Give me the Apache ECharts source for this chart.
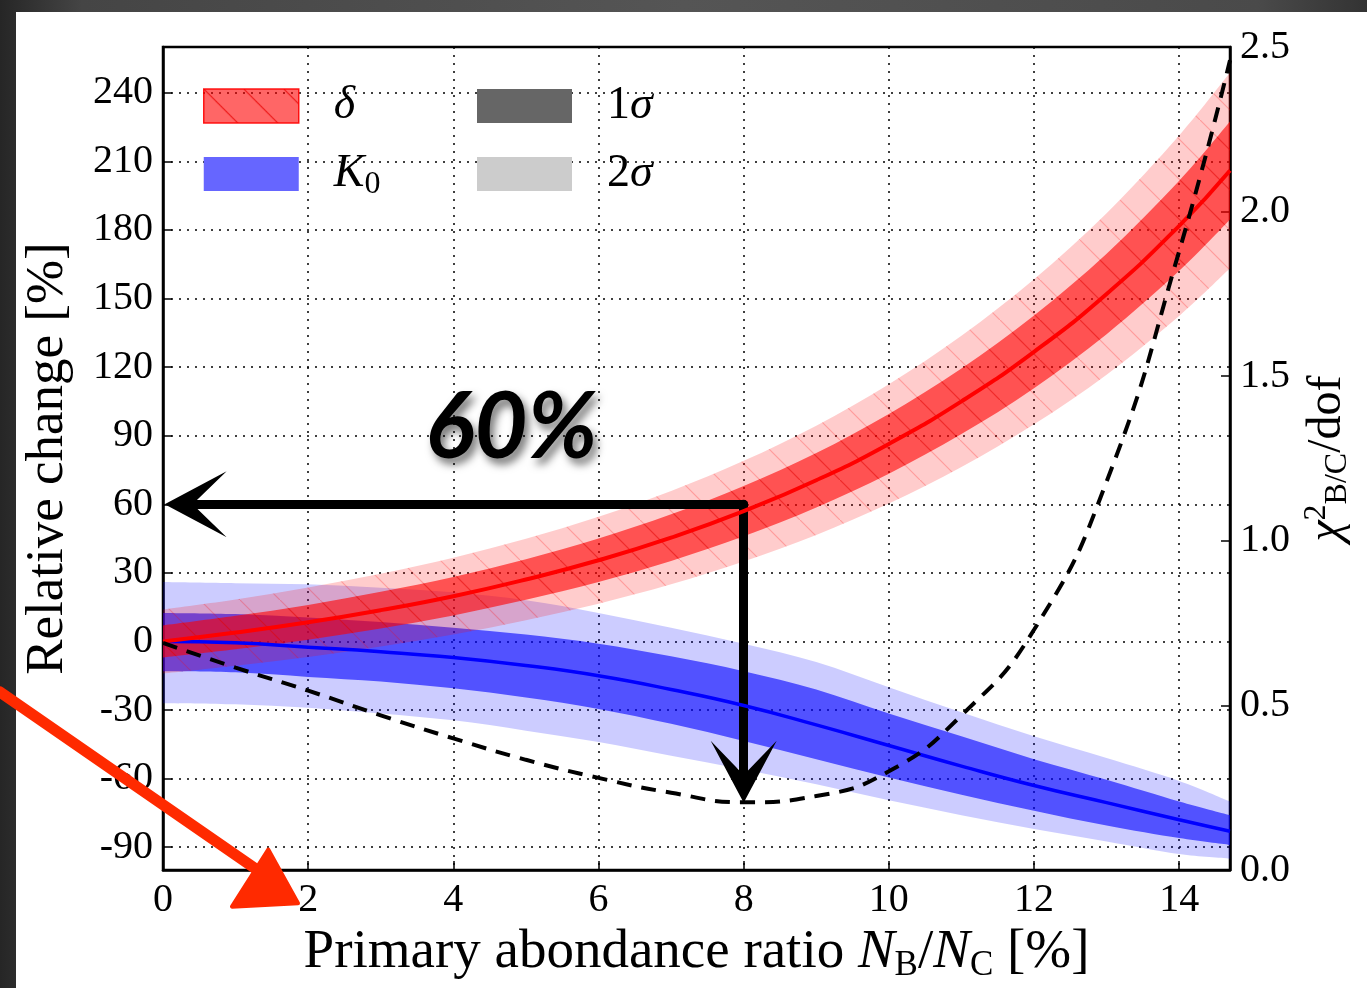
<!DOCTYPE html>
<html>
<head>
<meta charset="utf-8">
<script src="https://cdn.jsdelivr.net/npm/echarts@6/dist/echarts.min.js"></script>
<style>
html,body{margin:0;padding:0;width:1367px;height:988px;overflow:hidden;}
body{background:linear-gradient(90deg,#262626 0%,#454545 6%,#555555 50%,#4a4a4a 92%,#333333 100%);}
#panel{position:absolute;left:16px;top:12px;right:0;bottom:0;background:#fff;}
#chart{position:absolute;left:0;top:0;width:1367px;height:988px;}
</style>
</head>
<body>
<div id="panel"></div>
<div id="chart"></div>
<script>
// ---- data ----
const xVals = [0,1,2,3,4,5,6,7,8,9,10,11,12,13,14,14.7];
const deltaMid = [0,3.9,8.4,13.7,19.8,27.1,35.5,45.4,57,70.5,86.4,105,126.7,152,181.8,206];
const deltaLo1 = [-7,-3.4,0.8,5.7,11.4,18.2,26.0,35.2,46.0,58.6,73.4,90.7,110.8,134.4,162.1,184.6];
const deltaHi1 = [7,11.2,16.0,21.7,28.2,36.0,45.0,55.6,68.0,82.4,99.5,119.4,142.6,169.6,201.5,227.4];
const deltaLo2 = [-14,-10.6,-6.8,-2.2,3.0,9.3,16.5,25.0,35.0,46.6,60.3,76.3,95.0,116.7,142.4,163.2];
const deltaHi2 = [14,18.4,23.6,29.6,36.6,44.9,54.5,65.8,79.0,94.4,112.5,133.7,158.4,187.3,221.3,248.8];
const k0Mid = [0,-0.6,-2.5,-4.5,-7,-10.5,-15,-21,-28,-36.5,-45.5,-54.5,-63,-70.5,-78,-83];
const k0Hi1 = [12.5,12,10.5,8.5,6,3,-1,-6.5,-13,-21,-31.5,-41.5,-51.5,-60.5,-70,-76];
const k0Lo1 = [-13,-13.5,-15.5,-17.5,-20.5,-24.5,-29.5,-36,-43.5,-51.5,-59.5,-67,-74,-80.5,-86,-89];
const k0Hi2 = [26,25.5,25,23.5,21.5,18,12.5,6,-1,-9,-20,-31,-41.5,-51,-61,-70];
const k0Lo2 = [-27,-27.5,-29,-31.5,-34.5,-39,-44,-50,-56,-62.5,-69.5,-76,-82,-87.5,-93,-95];
const chi2 = [0.69,0.615,0.545,0.47,0.40,0.335,0.28,0.235,0.206,0.225,0.30,0.47,0.73,1.18,1.88,2.46];
const leftTicks = [-90,-60,-30,0,30,60,90,120,150,180,210,240];
const annotValue = 60;       // the 60% reading
const annotX = 8;            // at N_B/N_C = 8 %

// ---- styles ----
const SERIF = '"Liberation Serif","DejaVu Serif",serif';
function hatch(fill, line){
  const s = 40, c = document.createElement('canvas');
  c.width = s; c.height = s;
  const g = c.getContext('2d');
  g.fillStyle = fill; g.fillRect(0,0,s,s);
  g.strokeStyle = line; g.lineWidth = 1.2;
  g.beginPath(); g.moveTo(-2,-2); g.lineTo(s+2,s+2); g.stroke();
  return {image:c, repeat:'repeat'};
}
const red2 = hatch('rgba(255,0,0,0.2)','rgba(255,0,0,0.24)');
const red1 = hatch('rgba(255,0,0,0.6)','rgba(210,0,0,0.35)');
const redLegend = hatch('rgba(255,0,0,0.6)','rgba(230,0,0,0.8)');
const blue2 = 'rgba(0,0,255,0.2)';
const blue1 = 'rgba(0,0,255,0.6)';

function pairs(arr){ return xVals.map((v,i)=>[v,arr[i]]); }
function smoothSeg(pts){
  let d = '';
  for (let i=0;i<pts.length-1;i++){
    const p0=pts[Math.max(i-1,0)], p1=pts[i], p2=pts[i+1], p3=pts[Math.min(i+2,pts.length-1)];
    const c1=[p1[0]+(p2[0]-p0[0])/6, p1[1]+(p2[1]-p0[1])/6];
    const c2=[p2[0]-(p3[0]-p1[0])/6, p2[1]-(p3[1]-p1[1])/6];
    d += ' C'+c1[0]+','+c1[1]+' '+c2[0]+','+c2[1]+' '+p2[0]+','+p2[1];
  }
  return d;
}
function band(id, lo, hi, fill, z){
  return {type:'custom', id:id, data:[[0,0]], encode:{x:0,y:1}, clip:true, silent:true, z:z,
    renderItem:function(params, api){
      const up = xVals.map((v,i)=>api.coord([v,hi[i]]));
      const dn = xVals.map((v,i)=>api.coord([v,lo[i]])).reverse();
      const d = 'M'+up[0][0]+','+up[0][1]+smoothSeg(up)+' L'+dn[0][0]+','+dn[0][1]+smoothSeg(dn)+' Z';
      return {type:'path', shape:{pathData:d}, style:{fill:fill, stroke:null}};
    }};
}

const chart = echarts.init(document.getElementById('chart'), null, {renderer:'canvas'});
const tickStyle = {show:true, inside:true, length:9, lineStyle:{color:'#000', width:1.5}};
const labelStyle = {color:'#000', fontFamily:SERIF, fontSize:40};
const richMath = {
  i:{fontFamily:SERIF, fontStyle:'italic', fontSize:46, color:'#000', lineHeight:44},
  n:{fontFamily:SERIF, fontSize:46, color:'#000', lineHeight:44},
  s:{fontFamily:SERIF, fontSize:32, color:'#000', lineHeight:32, padding:[22,0,0,0]}
};

const option = {
  animation:false,
  backgroundColor:'transparent',
  grid:{left:163, top:47, width:1067, height:826, show:true, borderColor:'#000', borderWidth:2.5, backgroundColor:'transparent'},
  xAxis:{type:'value', min:0, max:14.7, interval:2,
    axisLine:{show:true, onZero:false, lineStyle:{color:'#000', width:2.5}},
    axisTick:tickStyle,
    axisLabel:Object.assign({margin:10, showMaxLabel:false}, labelStyle),
    splitLine:{show:true, lineStyle:{color:'#000', width:1.5, type:[2,6]}},
    name:'Primary abondance ratio {i|N}{s|B}/{i|N}{s|C} [%]',
    nameLocation:'middle', nameGap:50,
    nameTextStyle:{fontFamily:SERIF, fontSize:55, color:'#000',
      rich:{i:{fontFamily:SERIF, fontStyle:'italic', fontSize:55, color:'#000'},
            s:{fontFamily:SERIF, fontSize:35, color:'#000', padding:[26,0,0,0]}}}
  },
  yAxis:[
    {type:'value', min:-100, max:260, position:'left',
      axisLine:{show:true, onZero:false, lineStyle:{color:'#000', width:2.5}},
      axisTick:Object.assign({customValues:leftTicks}, tickStyle),
      axisLabel:Object.assign({margin:10, customValues:leftTicks}, labelStyle),
      splitLine:{show:true, lineStyle:{color:'#000', width:1.5, type:[2,6]}},
      name:'Relative change [%]', nameLocation:'middle', nameGap:88, nameRotate:90,
      nameTextStyle:{fontFamily:SERIF, fontSize:53, color:'#000'}
    },
    {type:'value', min:0, max:2.5, interval:0.5, position:'right',
      axisLine:{show:true, onZero:false, lineStyle:{color:'#000', width:2.5}},
      axisTick:tickStyle,
      axisLabel:Object.assign({margin:10, formatter:v=>v.toFixed(1)}, labelStyle),
      splitLine:{show:false},
      name:'{i|χ}{p|2}{s|B/C}/dof', nameLocation:'middle', nameGap:66, nameRotate:90,
      nameTextStyle:{fontFamily:SERIF, fontSize:48, color:'#000',
        rich:{i:{fontFamily:SERIF, fontStyle:'italic', fontSize:48, color:'#000'},
              p:{fontFamily:SERIF, fontSize:32, color:'#000', padding:[0,0,20,0]},
              s:{fontFamily:SERIF, fontSize:32, color:'#000', padding:[22,0,0,0]}}}
    }
  ],
  legend:[
    {data:[{name:'δ', itemStyle:{color:redLegend, borderColor:'rgba(255,0,0,0.9)', borderWidth:1.5}},
           {name:'K0', itemStyle:{color:'#6666ff', borderWidth:0}}],
     orient:'vertical', left:203, top:83, padding:0, icon:'rect', itemWidth:95, itemHeight:34, itemGap:18,
     selectedMode:false,
     formatter:n=> n==='K0' ? '{i|K}{s|0}' : '{i|δ}',
     textStyle:{padding:[0,0,0,30], rich:richMath}},
    {data:[{name:'1σ', itemStyle:{color:'#666666', borderWidth:0}},
           {name:'2σ', itemStyle:{color:'#cccccc', borderWidth:0}}],
     orient:'vertical', left:477, top:83, padding:0, icon:'rect', itemWidth:95, itemHeight:34, itemGap:22,
     selectedMode:false,
     formatter:n=> '{n|'+n[0]+'}{i|σ}',
     textStyle:{padding:[0,0,0,30], rich:richMath}}
  ],
  series:[
    band('k2', k0Lo2, k0Hi2, blue2, 1),
    band('k1', k0Lo1, k0Hi1, blue1, 2),
    band('d2', deltaLo2, deltaHi2, red2, 3),
    band('d1', deltaLo1, deltaHi1, red1, 4),
    {type:'line', id:'k0mid', data:pairs(k0Mid), symbol:'none', smooth:true, lineStyle:{color:'#0000ff', width:3.5}, z:5},
    {type:'line', id:'dmid', data:pairs(deltaMid), symbol:'none', smooth:true, lineStyle:{color:'#ff0000', width:4}, z:6,
      markLine:{silent:true, symbol:['none','path://M50,0 L100,100 L50,45 L0,100 Z'], symbolSize:[66,62], label:{show:false},
        lineStyle:{color:'#000', width:9, type:'solid', cap:'round'},
        data:[
          [{coord:[annotX, annotValue]},{coord:[0.45, annotValue]}],
          [{coord:[annotX, annotValue]},{coord:[annotX, -57]}]
        ]}},
    {type:'line', id:'chi2', yAxisIndex:1, data:pairs(chi2), symbol:'none', smooth:true,
      lineStyle:{color:'#000', width:4, type:[15,10]}, z:7},
    {type:'line', name:'δ', data:[]},
    {type:'line', name:'K0', data:[]},
    {type:'line', name:'1σ', data:[]},
    {type:'line', name:'2σ', data:[]}
  ]
};
chart.setOption(option);

// decorations placed through the axes
const P = (a)=>chart.convertToPixel({xAxisIndex:0, yAxisIndex:0}, a);
const redFrom = P([-2.25,-22]), redTo = P([1.3,-100]);
const triA = P([1.45,-91]), triL = P([0.95,-116]), triR = P([1.86,-114.5]);
const txt = P([4.8, 93]);
chart.setOption({graphic:[
  {type:'polyline', shape:{points:[redFrom, redTo]}, style:{stroke:'#ff2a00', lineWidth:11, lineCap:'round'}, z:100},
  {type:'polygon', shape:{points:[triA, triL, triR]}, style:{fill:'#ff2a00', stroke:'#ff2a00', lineWidth:4, lineJoin:'round'}, z:100},
  {type:'text', x:txt[0], y:txt[1], z:100,
   style:{text:'60%', fill:'#000', font:'italic bold 92px Lato, "Open Sans", sans-serif',
     align:'center', verticalAlign:'middle',
     textShadowColor:'rgba(0,0,0,0.55)', textShadowBlur:8, textShadowOffsetX:4, textShadowOffsetY:6}}
]});
</script>
</body>
</html>
